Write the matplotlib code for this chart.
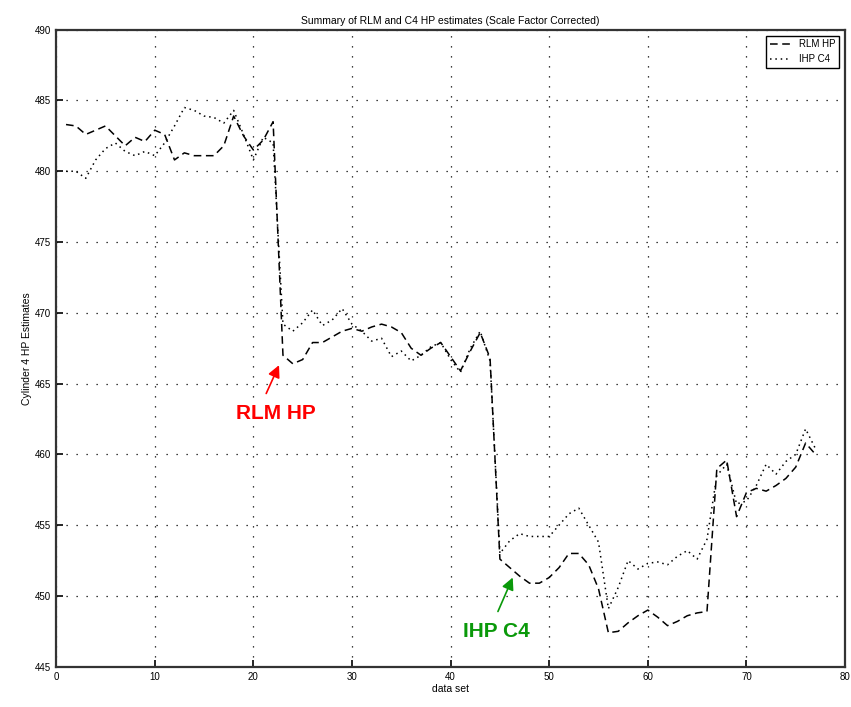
import numpy as np
import matplotlib.pyplot as plt

# data set index
data_set = list(range(1, 78))

# RLM horsepower estimate (scale factor corrected)
rlm_hp = [483.3, 483.2, 482.6, 482.9, 483.2, 482.5, 481.8, 482.4, 482.1, 482.9,
          482.6, 480.8, 481.3, 481.1, 481.1, 481.1, 481.8, 483.9, 482.5, 481.5,
          482.2, 483.5,
          467.0, 466.4, 466.7, 467.9, 467.9, 468.3, 468.7, 468.9, 468.7, 469.0,
          469.2, 469.0, 468.6, 467.5, 467.0, 467.5, 467.9, 466.9, 465.9, 467.3,
          468.6, 466.8,
          452.6, 452.0, 451.4, 450.9, 450.9, 451.3, 452.0, 453.0, 453.0, 452.2,
          450.5, 447.4, 447.5, 448.1, 448.6, 449.0, 448.5, 447.9, 448.2, 448.6,
          448.8, 448.9,
          459.0, 459.6, 455.6, 457.3, 457.6, 457.4, 457.8, 458.3, 459.1, 460.8,
          460.0]

# indicated horsepower, cylinder 4
ihp_c4 = [480.0, 480.0, 479.5, 480.8, 481.6, 482.0, 481.4, 481.1, 481.4, 481.1,
          482.0, 483.2, 484.5, 484.3, 483.9, 483.8, 483.4, 484.3, 482.6, 480.8,
          482.4, 482.0,
          469.2, 468.7, 469.3, 470.2, 469.1, 469.5, 470.3, 469.2, 468.7, 468.0,
          468.2, 466.9, 467.3, 466.6, 467.0, 467.6, 467.9, 466.7, 465.8, 467.5,
          468.7, 466.6,
          453.0, 453.9, 454.4, 454.2, 454.2, 454.2, 455.0, 455.8, 456.2, 455.0,
          453.8, 449.1, 450.6, 452.5, 451.9, 452.3, 452.4, 452.2, 452.8, 453.2,
          452.6, 454.0,
          458.5, 459.3, 456.5, 456.7, 457.8, 459.3, 458.6, 459.5, 460.0, 461.8,
          460.4]

xticks = list(range(0, 81, 10))
yticks = list(range(445, 491, 5))

plt.rcParams['font.family'] = ['Liberation Sans', 'DejaVu Sans']

fig = plt.figure(figsize=(8.51, 7.07), dpi=100)
ax = fig.add_axes([0.066, 0.057, 0.927, 0.901])

ax.plot(data_set, rlm_hp, color='k', linewidth=1.1, linestyle=(0, (5, 3)),
        label='RLM HP')
ax.plot(data_set, ihp_c4, color='k', linewidth=1.1, linestyle=(0, (1, 2.5)),
        label='IHP C4')

ax.set_xlim(0, 80)
ax.set_ylim(445, 490)
ax.set_xticks(xticks)
ax.set_yticks(yticks)
ax.tick_params(direction='in', length=5, labelsize=7, width=1.2)
ax.grid(True, color='k', linestyle=(0, (1, 7)), linewidth=0.9)
for sp in ax.spines.values():
    sp.set_linewidth(1.6)
    sp.set_color('#333333')

ax.set_title('Summary of RLM and C4 HP estimates (Scale Factor Corrected)',
             fontsize=7.5, pad=4)
ax.set_xlabel('data set', fontsize=7.5, labelpad=2)
ax.set_ylabel('Cylinder 4 HP Estimates', fontsize=7.5, labelpad=2)

leg = ax.legend(loc='upper right', fontsize=7, fancybox=False,
                edgecolor='k', framealpha=1, handlelength=2.2,
                borderaxespad=0.6)
leg.get_frame().set_linewidth(1.0)

# callouts: arrow and label drawn separately so the arrow can lean
red = '#ff0000'
green = '#0a990a'
ax.annotate('', xy=(22.6, 466.3), xytext=(21.3, 464.3),
            arrowprops=dict(arrowstyle='-|>', color=red, lw=1.2,
                            mutation_scale=18, shrinkA=0, shrinkB=0))
ax.text(22.3, 462.9, 'RLM HP', fontsize=15, fontweight='bold', color=red,
        ha='center', va='center')
ax.annotate('', xy=(46.3, 451.3), xytext=(44.8, 448.9),
            arrowprops=dict(arrowstyle='-|>', color=green, lw=1.2,
                            mutation_scale=18, shrinkA=0, shrinkB=0))
ax.text(44.6, 447.5, 'IHP C4', fontsize=15, fontweight='bold', color=green,
        ha='center', va='center')

fig.savefig('out.png', dpi=100)
